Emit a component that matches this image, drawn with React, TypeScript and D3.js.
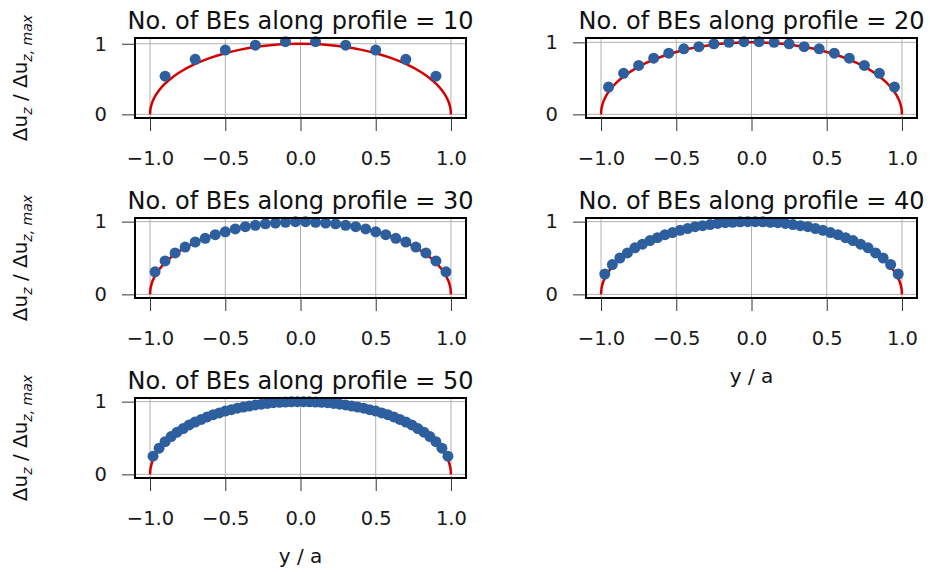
import { useEffect, useRef } from 'react';
import * as d3 from 'd3';

// Normalised displacement at each BE centre
const BE_10 = [0.54, 0.78, 0.91, 0.98, 1.03, 1.03, 0.98, 0.91, 0.78, 0.54];
const BE_20 = [0.38, 0.57, 0.68, 0.78, 0.85, 0.91, 0.94, 0.98, 1.0, 1.01,
  1.01, 1.0, 0.98, 0.94, 0.91, 0.85, 0.78, 0.68, 0.57, 0.38];
const BE_30 = [0.31, 0.46, 0.57, 0.65, 0.72, 0.77, 0.82, 0.86, 0.9, 0.93, 0.95, 0.97, 0.98, 0.99, 1.0,
  1.0, 0.99, 0.98, 0.97, 0.95, 0.93, 0.9, 0.86, 0.82, 0.77, 0.72, 0.65, 0.57, 0.46, 0.31];
const BE_40 = [0.28, 0.41, 0.5, 0.57, 0.64, 0.69, 0.74, 0.78, 0.82, 0.85, 0.88, 0.905, 0.93, 0.945, 0.96, 0.975, 0.985, 0.99, 0.997, 1.0,
  1.0, 0.997, 0.99, 0.985, 0.975, 0.96, 0.945, 0.93, 0.905, 0.88, 0.85, 0.82, 0.78, 0.74, 0.69, 0.64, 0.57, 0.5, 0.41, 0.28];
const BE_50 = [0.25, 0.36, 0.45, 0.52, 0.58, 0.63, 0.68, 0.72, 0.755, 0.79, 0.82, 0.845, 0.87, 0.89, 0.91, 0.925, 0.94, 0.955, 0.965, 0.975, 0.985, 0.99, 0.995, 0.998, 1.0,
  1.0, 0.998, 0.995, 0.99, 0.985, 0.975, 0.965, 0.955, 0.94, 0.925, 0.91, 0.89, 0.87, 0.845, 0.82, 0.79, 0.755, 0.72, 0.68, 0.63, 0.58, 0.52, 0.45, 0.36, 0.25];

const PANELS = [BE_10, BE_20, BE_30, BE_40, BE_50];

// Analytic profile (red line)
const CURVE_Y = [-1, -0.998, -0.99, -0.97, -0.94, -0.9, -0.85, -0.8, -0.7, -0.6, -0.5, -0.4, -0.3, -0.2, -0.1, 0,
  0.1, 0.2, 0.3, 0.4, 0.5, 0.6, 0.7, 0.8, 0.85, 0.9, 0.94, 0.97, 0.99, 0.998, 1];
const CURVE_V = [0, 0.063, 0.141, 0.243, 0.341, 0.436, 0.527, 0.6, 0.714, 0.8, 0.866, 0.917, 0.954, 0.98, 0.995, 1,
  0.995, 0.98, 0.954, 0.917, 0.866, 0.8, 0.714, 0.6, 0.527, 0.436, 0.341, 0.243, 0.141, 0.063, 0];

const X_TICKS = [-1, -0.5, 0, 0.5, 1];
const Y_TICKS = [0, 1];

const FONT = '"DejaVu Sans", sans-serif';

export default function App() {
  const svgRef = useRef<SVGSVGElement>(null);

  useEffect(() => {
    if (!svgRef.current) return;
    const svg = d3.select(svgRef.current);
    svg.selectAll('*').remove();

    const W = 331, H = 80;
    const colLeft = [135, 586];
    const rowTop = [38, 218, 398];
    const curve = CURVE_Y.map((y, i) => ({ y, v: CURVE_V[i] }));

    PANELS.forEach((vals, i) => {
      const left = colLeft[i % 2];
      const top = rowTop[Math.floor(i / 2)];
      const vmax = Math.max(d3.max(vals) as number, d3.max(CURVE_V) as number);

      const x = d3.scaleLinear().domain([-1.1, 1.1]).range([left, left + W]);
      const y = d3.scaleLinear().domain([-0.05 * vmax, 1.05 * vmax]).range([top + H, top]);
      // element centres along the profile
      const band = d3.scaleBand<number>().domain(d3.range(vals.length)).range([-1, 1]);

      const g = svg.append('g');

      // grid
      g.append('g').selectAll('line').data(X_TICKS).join('line')
        .attr('x1', d => x(d)).attr('x2', d => x(d))
        .attr('y1', top).attr('y2', top + H)
        .attr('stroke', '#b0b0b0').attr('stroke-width', 1);
      g.append('g').selectAll('line').data(Y_TICKS).join('line')
        .attr('x1', left).attr('x2', left + W)
        .attr('y1', d => y(d)).attr('y2', d => y(d))
        .attr('stroke', '#b0b0b0').attr('stroke-width', 1);

      // analytic line
      const line = d3.line<{ y: number; v: number }>()
        .x(d => x(d.y))
        .y(d => y(d.v))
        .curve(d3.curveMonotoneX);
      g.append('path')
        .datum(curve)
        .attr('fill', 'none')
        .attr('stroke', '#d40000')
        .attr('stroke-width', 2.5)
        .attr('d', line);

      // BE values
      g.append('g').selectAll('circle').data(vals).join('circle')
        .attr('cx', (d, j) => x((band(j) as number) + band.bandwidth() / 2))
        .attr('cy', d => y(d))
        .attr('r', 5.5)
        .attr('fill', '#2d5f9f');

      // frame
      g.append('rect')
        .attr('x', left).attr('y', top).attr('width', W).attr('height', H)
        .attr('fill', 'none').attr('stroke', '#000').attr('stroke-width', 2);

      // axes
      const xAxis = g.append('g')
        .attr('transform', `translate(0,${top + H})`)
        .call(d3.axisBottom(x).tickValues(X_TICKS).tickFormat(d3.format('.1f')).tickSize(13).tickPadding(20));
      const yAxis = g.append('g')
        .attr('transform', `translate(${left},0)`)
        .call(d3.axisLeft(y).tickValues(Y_TICKS).tickFormat(d3.format('d')).tickSize(13).tickPadding(15));
      [xAxis, yAxis].forEach(ax => {
        ax.select('.domain').remove();
        ax.attr('font-family', FONT).attr('font-size', 19.5);
        ax.selectAll('line').attr('stroke', '#333').attr('stroke-width', 1);
        ax.selectAll('text').attr('fill', '#1a1a1a');
      });

      // title
      g.append('text')
        .attr('x', left + W / 2).attr('y', top - 9.5)
        .attr('text-anchor', 'middle')
        .attr('font-family', FONT).attr('font-size', 24).attr('fill', '#111')
        .text(`No. of BEs along profile = ${vals.length}`);

      // y label on left column
      if (i % 2 === 0) {
        const t = g.append('text')
          .attr('transform', `translate(27,${top + H / 2}) rotate(-90)`)
          .attr('text-anchor', 'middle')
          .attr('font-family', FONT).attr('font-size', 20).attr('fill', '#111')
          .style('white-space', 'pre');
        t.append('tspan').text('Δu');
        t.append('tspan').attr('dy', 5).attr('font-size', 14).attr('font-style', 'italic').text('z');
        t.append('tspan').attr('dy', -5).text(' / Δu');
        t.append('tspan').attr('dy', 5).attr('font-size', 14).attr('font-style', 'italic').text('z, max');
      }

      // x label under bottom panels
      if (i >= 3) {
        g.append('text')
          .attr('x', left + W / 2).attr('y', top + H + 85)
          .attr('text-anchor', 'middle')
          .attr('font-family', FONT).attr('font-size', 20).attr('fill', '#111')
          .text('y / a');
      }
    });
  }, []);

  return (
    <svg
      ref={svgRef}
      width={930}
      height={572}
      style={{ position: 'absolute', left: 0, top: 0, background: '#fff' }}
    />
  );
}
